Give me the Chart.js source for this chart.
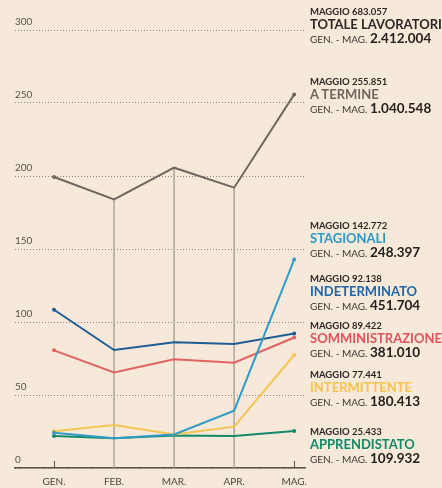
<!DOCTYPE html>
<html lang="it">
<head>
<meta charset="UTF-8">
<title>Contratti attivati</title>
<script src="https://cdn.jsdelivr.net/npm/chart.js"></script>
<style>
    html, body { margin: 0; padding: 0; background: #f7e9da; }
    .wrap { position: relative; width: 442px; height: 488px; overflow: hidden; font-family: Lato, "Noto Sans", sans-serif; }
    canvas { position: absolute; left: 0; top: 0; }
    .blocco { position: absolute; left: 310px; white-space: nowrap; }
    .blocco div { display: block; }
    .m { font-size: 9.5px; line-height: 12px; font-weight: 700; color: #2b2724; }
    .t { font-size: 13px; line-height: 13px; font-weight: 700; }
    .g { font-size: 10px; line-height: 14px; color: #3a3532; }
    .g b { font-size: 13.5px; color: #24201d; }
</style>
</head>
<body>
<div class="wrap">
    <canvas id="grafico" width="442" height="488"></canvas>

    <div class="blocco" style="top:6px">
        <div class="m">MAGGIO 683.057</div>
        <div class="t" style="color:#2b2724">TOTALE LAVORATORI</div>
        <div class="g">GEN. - MAG. <b>2.412.004</b></div>
    </div>
    <div class="blocco" style="top:76px">
        <div class="m">MAGGIO 255.851</div>
        <div class="t" style="color:#6e675f">A TERMINE</div>
        <div class="g">GEN. - MAG. <b>1.040.548</b></div>
    </div>
    <div class="blocco" style="top:220px">
        <div class="m">MAGGIO 142.772</div>
        <div class="t" style="color:#2b98c6">STAGIONALI</div>
        <div class="g">GEN. - MAG. <b>248.397</b></div>
    </div>
    <div class="blocco" style="top:273px">
        <div class="m">MAGGIO 92.138</div>
        <div class="t" style="color:#2266a6">INDETERMINATO</div>
        <div class="g">GEN. - MAG. <b>451.704</b></div>
    </div>
    <div class="blocco" style="top:320px">
        <div class="m">MAGGIO 89.422</div>
        <div class="t" style="color:#e0525a">SOMMINISTRAZIONE</div>
        <div class="g">GEN. - MAG. <b>381.010</b></div>
    </div>
    <div class="blocco" style="top:369px">
        <div class="m">MAGGIO 77.441</div>
        <div class="t" style="color:#f4c44c">INTERMITTENTE</div>
        <div class="g">GEN. - MAG. <b>180.413</b></div>
    </div>
    <div class="blocco" style="top:426px">
        <div class="m">MAGGIO 25.433</div>
        <div class="t" style="color:#0f8a68">APPRENDISTATO</div>
        <div class="g">GEN. - MAG. <b>109.932</b></div>
    </div>
</div>

<script>
    // valori in migliaia
    const mesi = ['GEN.', 'FEB.', 'MAR.', 'APR.', 'MAG.'];
    const tickY = [0, 50, 100, 150, 200, 250, 300];

    const aTermine = [199.3, 184.0, 205.7, 192.0, 255.9];
    const stagionali = [24.2, 20.3, 23.0, 39.3, 142.8];
    const indeterminato = [108.4, 80.8, 86.1, 84.9, 92.1];
    const somministrazione = [80.6, 65.5, 74.4, 72.1, 89.4];
    const intermittente = [25.1, 29.5, 23.0, 28.3, 77.4];
    const apprendistato = [21.9, 20.3, 22.3, 21.9, 25.4];

    const punti = valori => valori.map((v, i) => ({ x: i, y: v }));
    const pallini = [2, 0, 0, 0, 2];

    function linea(valori, colore) {
        return {
            type: 'line',
            data: punti(valori),
            borderColor: colore,
            backgroundColor: colore,
            borderWidth: 2,
            pointRadius: pallini,
            pointBorderWidth: 0,
            tension: 0
        };
    }

    // tacche sull'asse a GEN. e MAG.
    const tacche = {
        id: 'tacche',
        afterDatasetsDraw(chart) {
            const { ctx, scales: { x, y } } = chart;
            ctx.save();
            ctx.strokeStyle = '#5a524c';
            ctx.lineWidth = 1;
            [0, mesi.length - 1].forEach(i => {
                const px = Math.round(x.getPixelForValue(i)) + 0.5;
                ctx.beginPath();
                ctx.moveTo(px, y.getPixelForValue(0));
                ctx.lineTo(px, y.getPixelForValue(0) - 7);
                ctx.stroke();
            });
            ctx.restore();
        }
    };

    const grafico = new Chart(document.getElementById('grafico').getContext('2d'), {
        data: {
            datasets: [
                linea(stagionali, '#2f9bc6'),
                linea(intermittente, '#f5c453'),
                linea(apprendistato, '#138a69'),
                linea(indeterminato, '#1f5e95'),
                linea(somministrazione, '#e2625f'),
                linea(aTermine, '#6e675f'),
                {
                    type: 'bar',
                    data: punti(aTermine.map((v, i) => (i > 0 && i < mesi.length - 1) ? v : null)),
                    backgroundColor: '#b3aaa1',
                    barThickness: 1,
                    grouped: false
                }
            ]
        },
        plugins: [tacche],
        options: {
            responsive: false,
            animation: false,
            layout: { padding: { left: 15, right: 137, top: 30, bottom: 0 } },
            plugins: { legend: { display: false }, tooltip: { enabled: false } },
            scales: {
                x: {
                    type: 'linear',
                    offset: false,
                    min: -0.65,
                    max: 4.18,
                    afterFit: s => { s.height = 20; },
                    grid: { display: false, drawTicks: false },
                    border: { display: true, color: '#5a524c', width: 1.5 },
                    ticks: {
                        stepSize: 1,
                        includeBounds: false,
                        autoSkip: false,
                        maxRotation: 0,
                        padding: 8,
                        color: '#4a4540',
                        font: { family: 'Lato', size: 10 },
                        callback: v => mesi[v] ?? ''
                    }
                },
                y: {
                    min: 0,
                    max: 300,
                    afterFit: s => { s.width = 0; },
                    afterBuildTicks: s => { s.ticks = tickY.map(v => ({ value: v })); },
                    grid: { color: '#8c8278', lineWidth: 1, drawTicks: false },
                    border: { display: false, dash: [1, 2] },
                    ticks: {
                        mirror: true,
                        padding: 0,
                        labelOffset: -8,
                        color: '#5a524c',
                        font: { family: 'Lato', size: 10 }
                    }
                }
            }
        }
    });
</script>
</body>
</html>
